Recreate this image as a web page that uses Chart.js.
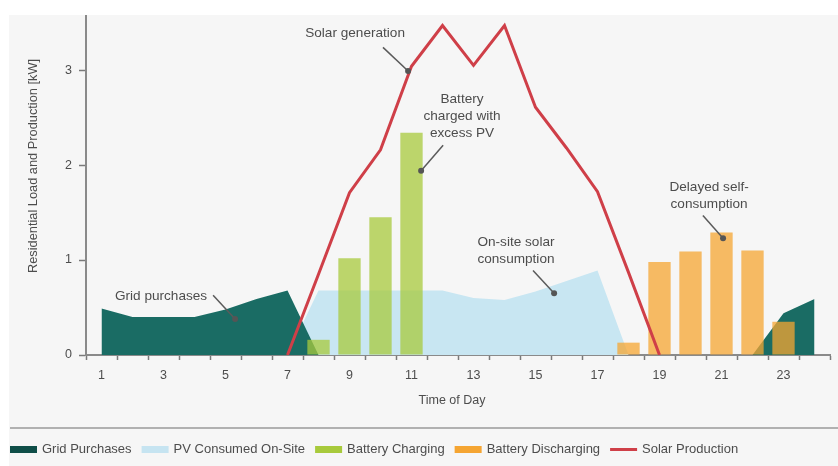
<!DOCTYPE html>
<html><head><meta charset="utf-8">
<script src="https://cdn.jsdelivr.net/npm/chart.js@4.4.1/dist/chart.umd.min.js"></script>
<style>html,body{margin:0;padding:0;background:#fff;}#wrap{width:838px;height:466px;position:relative;}canvas{display:block;}</style>
</head><body><div id="wrap"><canvas id="c" width="838" height="466"></canvas></div>
<script>
// ---- data ----
const hours = [1,2,3,4,5,6,7,8,9,10,11,12,13,14,15,16,17,18,19,20,21,22,23,24];
const tickLabels = ['1','','3','','5','','7','','9','','11','','13','','15','','17','','19','','21','','23',''];
const yTicks = [0,1,2,3];
const gridPurchases = [0.49,0.40,0.40,0.40,0.48,0.59,0.68,0,0,0,0,0,0,0,0,0,0,0,0,0,0,0,0.44,0.59];
const pvConsumed    = [0,0,0,0,0,0,0,0.68,0.68,0.68,0.68,0.68,0.60,0.58,0.67,0.78,0.89,0,0,0,0,0,0,0];
const batteryCharging    = [null,null,null,null,null,null,null,0.16,1.02,1.45,2.34,null,null,null,null,null,null,null,null,null,null,null,null,null];
const batteryDischarging = [null,null,null,null,null,null,null,null,null,null,null,null,null,null,null,null,null,0.13,0.98,1.09,1.29,1.10,0.35,null];
const solarProduction    = [null,null,null,null,null,null,0,0.85,1.71,2.16,3.04,3.47,3.05,3.47,2.61,2.18,1.72,0.87,0,null,null,null,null,null];
const seriesNames = ['Grid Purchases','PV Consumed On-Site','Battery Charging','Battery Discharging','Solar Production'];
const yTitle = 'Residential Load and Production [kW]';
const xTitle = 'Time of Day';

// annotations in data units (hour, kW)
const notes = [
  {lines:['Solar generation'], tx:9.18, ty:3.39, lx:10.08, ly:3.24, dx:10.89, dy:2.99},
  {lines:['Battery','charged with','excess PV'], tx:12.63, ty:2.69, lx:12.02, ly:2.21, dx:11.31, dy:1.94},
  {lines:['On-site solar','consumption'], tx:14.37, ty:1.19, lx:14.92, ly:0.89, dx:15.6, dy:0.65},
  {lines:['Delayed self-','consumption'], tx:20.6, ty:1.77, lx:20.4, ly:1.47, dx:21.05, dy:1.23},
  {lines:['Grid purchases'], tx:2.92, ty:0.62, lx:4.6, ly:0.63, dx:5.31, dy:0.38}
];

// ---- styles ----
const FONT = '"Liberation Sans", Arial, sans-serif';
const TXT = '#4d4d4d';
const chartColors = {
  grid:'#1a6c64', pv:'#c8e6f2', charge:'rgba(168,202,60,0.75)', discharge:'rgba(245,165,50,0.75)', solar:'#cf3f48'
};
const legendColors = ['#0f4e48','#c6e4f1','#a8ca3c','#f5a532','#cf3f48'];

const decor = {
  id:'decor',
  beforeDraw(chart){
    const ctx = chart.ctx;
    ctx.save();
    ctx.fillStyle = '#f6f6f6';
    ctx.fillRect(9,15,829,451);
    ctx.restore();
  },
  afterDraw(chart){
    const ctx = chart.ctx, xs = chart.scales.x, ys = chart.scales.y;
    const px = h => xs.getPixelForValue(h-1);
    const py = v => ys.getPixelForValue(v);
    ctx.save();
    // separator
    ctx.strokeStyle = '#9a9a9a'; ctx.lineWidth = 1.5;
    ctx.beginPath(); ctx.moveTo(10,428); ctx.lineTo(838,428); ctx.stroke();
    // axis titles
    ctx.fillStyle = TXT; ctx.font = '12.5px ' + FONT;
    ctx.textAlign = 'center'; ctx.textBaseline = 'middle';
    ctx.fillText(xTitle, 452, 401);
    ctx.save(); ctx.translate(33,166); ctx.rotate(-Math.PI/2);
    ctx.font = '12.8px ' + FONT; ctx.fillText(yTitle,0,0); ctx.restore();
    // annotations
    notes.forEach(n => {
      ctx.strokeStyle = '#5a5a5a'; ctx.lineWidth = 1.5;
      ctx.beginPath(); ctx.moveTo(px(n.lx), py(n.ly)); ctx.lineTo(px(n.dx), py(n.dy)); ctx.stroke();
      ctx.fillStyle = '#555';
      ctx.beginPath(); ctx.arc(px(n.dx), py(n.dy), 3, 0, Math.PI*2); ctx.fill();
      ctx.fillStyle = TXT; ctx.font = '13.6px ' + FONT;
      ctx.textAlign = 'center'; ctx.textBaseline = 'middle';
      n.lines.forEach((t,i) => ctx.fillText(t, px(n.tx), py(n.ty) + i*17));
    });
    // legend
    let x = 10; const cy = 449.5;
    ctx.font = '13px ' + FONT; ctx.textAlign = 'left'; ctx.textBaseline = 'middle';
    seriesNames.forEach((name,i) => {
      if (i === 4) {
        ctx.strokeStyle = legendColors[i]; ctx.lineWidth = 3;
        ctx.beginPath(); ctx.moveTo(x, cy); ctx.lineTo(x+27, cy); ctx.stroke();
      } else {
        ctx.fillStyle = legendColors[i]; ctx.fillRect(x, cy-3.5, 27, 7);
      }
      ctx.fillStyle = TXT; ctx.fillText(name, x+32, cy);
      x += 32 + ctx.measureText(name).width + 10;
    });
    ctx.restore();
  }
};

const tickStyle = {color:TXT, font:{family:FONT, size:12.5}};
new Chart(document.getElementById('c'), {
  type:'bar',
  data:{
    labels: hours.map(String),
    datasets:[
      {type:'line', label:seriesNames[4], data:solarProduction, borderColor:chartColors.solar, borderWidth:3, pointRadius:0, tension:0, fill:false, borderJoinStyle:'miter', order:0},
      {type:'bar', label:seriesNames[2], data:batteryCharging, backgroundColor:chartColors.charge, borderWidth:0, grouped:false, barPercentage:0.9, categoryPercentage:0.8, order:1},
      {type:'bar', label:seriesNames[3], data:batteryDischarging, backgroundColor:chartColors.discharge, borderWidth:0, grouped:false, barPercentage:0.9, categoryPercentage:0.8, order:1},
      {type:'line', label:seriesNames[0], data:gridPurchases, borderColor:'rgba(0,0,0,0)', borderWidth:0, backgroundColor:chartColors.grid, fill:'origin', pointRadius:0, tension:0, order:2},
      {type:'line', label:seriesNames[1], data:pvConsumed, borderColor:'rgba(0,0,0,0)', borderWidth:0, backgroundColor:chartColors.pv, fill:'origin', pointRadius:0, tension:0, order:3}
    ]
  },
  options:{
    responsive:false, animation:false, devicePixelRatio:1,
    layout:{padding:{top:16, right:8, left:0, bottom:0}},
    plugins:{legend:{display:false}, tooltip:{enabled:false}},
    scales:{
      x:{
        offset:true,
        grid:{offset:true, drawOnChartArea:false, drawTicks:true, tickLength:5, tickColor:'#7a7a7a', tickWidth:1.5},
        border:{color:'#8a8a8a', width:2},
        ticks:{...tickStyle, autoSkip:false, maxRotation:0, padding:8, callback:(v,i)=>tickLabels[i]},
        afterFit: s => { s.height = 111; }
      },
      y:{
        min:0, max:3.57,
        afterBuildTicks: s => { s.ticks = yTicks.map(v => ({value:v})); },
        grid:{drawOnChartArea:false, drawTicks:true, tickLength:7, tickColor:'#7a7a7a', tickWidth:1.5},
        border:{color:'#8a8a8a', width:2},
        ticks:{...tickStyle, padding:7},
        afterFit: s => { s.width = 86; }
      }
    }
  },
  plugins:[decor]
});
</script></body></html>
